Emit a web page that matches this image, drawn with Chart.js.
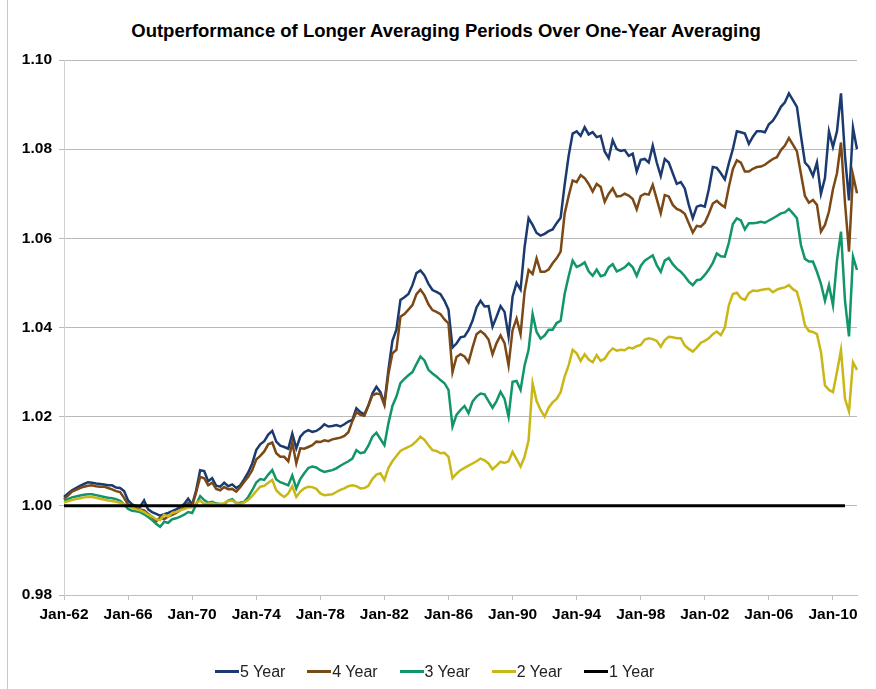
<!DOCTYPE html>
<html>
<head>
<meta charset="utf-8">
<title>Outperformance of Longer Averaging Periods</title>
<script src="https://cdn.jsdelivr.net/npm/chart.js@4/dist/chart.umd.min.js"></script>
<style>
  body { margin: 0; background: #fff; }
  #wrap { position: relative; width: 876px; height: 689px; overflow: hidden; font-family: "Liberation Sans", Arial, sans-serif; }
  #frame { position: absolute; left: 7px; top: 0; width: 0; height: 689px; border-left: 1px solid #c8c8c8; }
  #title { position: absolute; left: 446px; top: 20px; transform: translateX(-50%); white-space: nowrap;
           font-weight: bold; font-size: 18.5px; line-height: 22px; color: #000; }
  #chart { position: absolute; left: 0; top: 0; }
  .item { position: absolute; top: 662px; height: 20px; line-height: 20px; font-size: 16px; color: #222; white-space: nowrap; }
  .item span.line { display: inline-block; width: 24px; height: 3px; vertical-align: middle; margin-right: 1px; position: relative; top: -1px; }
</style>
</head>
<body>
<div id="wrap">
  <div id="frame"></div>
  <div id="title">Outperformance of Longer Averaging Periods Over One-Year Averaging</div>
  <canvas id="chart" width="876" height="689"></canvas>
  <div id="legend"></div>
</div>
<script>
// Quarterly categories, Jan-62 .. Jul-11
const quarterMonths = ['Jan', 'Apr', 'Jul', 'Oct'];
const firstYear = 1962, lastYear = 2011, lastQuarter = 2;
const categories = [];
for (let y = firstYear; y <= lastYear; y++) {
    for (let q = 0; q < 4; q++) {
        if (y === lastYear && q > lastQuarter) break;
        categories.push(quarterMonths[q] + '-' + String(y % 100).padStart(2, '0'));
    }
}

const tickLabels = ['Jan-62', 'Jan-66', 'Jan-70', 'Jan-74', 'Jan-78', 'Jan-82', 'Jan-86',
                    'Jan-90', 'Jan-94', 'Jan-98', 'Jan-02', 'Jan-06', 'Jan-10'];
const yTicks = [0.98, 1.00, 1.02, 1.04, 1.06, 1.08, 1.10];

const fiveYear = [
    1.0020,1.0028,1.0035,1.0040, 1.0045,1.0049,1.0053,1.0052, 1.0050,1.0049,1.0048,1.0046,
    1.0046,1.0041,1.0040,1.0033, 1.0012,1.0003,1.0000,0.9998, 1.0012,0.9992,0.9986,0.9982,
    0.9978,0.9981,0.9984,0.9988, 0.9992,0.9997,1.0004,1.0016, 1.0003,1.0035,1.0080,1.0078,
    1.0055,1.0062,1.0045,1.0043, 1.0052,1.0044,1.0048,1.0040, 1.0046,1.0060,1.0075,1.0095,
    1.0125,1.0138,1.0145,1.0160, 1.0168,1.0144,1.0135,1.0132, 1.0128,1.0162,1.0129,1.0155,
    1.0165,1.0170,1.0166,1.0168, 1.0174,1.0183,1.0178,1.0179, 1.0181,1.0178,1.0183,1.0189,
    1.0193,1.0219,1.0210,1.0205, 1.0225,1.0252,1.0267,1.0255, 1.0230,1.0305,1.0370,1.0395,
    1.0462,1.0468,1.0475,1.0495, 1.0522,1.0528,1.0517,1.0498, 1.0484,1.0480,1.0475,1.0460,
    1.0440,1.0355,1.0364,1.0378, 1.0380,1.0394,1.0415,1.0445, 1.0460,1.0447,1.0448,1.0402,
    1.0424,1.0448,1.0435,1.0380, 1.0469,1.0500,1.0485,1.0580, 1.0645,1.0630,1.0612,1.0606,
    1.0610,1.0616,1.0620,1.0634, 1.0646,1.0720,1.0785,1.0835, 1.0840,1.0830,1.0849,1.0833,
    1.0838,1.0827,1.0830,1.0795, 1.0780,1.0820,1.0800,1.0796, 1.0798,1.0785,1.0790,1.0750,
    1.0776,1.0778,1.0770,1.0808, 1.0770,1.0740,1.0778,1.0770, 1.0746,1.0722,1.0726,1.0712,
    1.0675,1.0645,1.0671,1.0674, 1.0671,1.0710,1.0760,1.0758, 1.0746,1.0732,1.0768,1.0800,
    1.0840,1.0838,1.0835,1.0812, 1.0828,1.0840,1.0840,1.0838, 1.0856,1.0864,1.0878,1.0895,
    1.0905,1.0925,1.0910,1.0895, 1.0830,1.0770,1.0760,1.0740, 1.0770,1.0700,1.0735,1.0840,
    1.0805,1.0840,1.0925,1.0785, 1.0685,1.0848,1.0800
];

const fourYear = [
    1.0015,1.0023,1.0032,1.0036, 1.0040,1.0043,1.0045,1.0046, 1.0044,1.0043,1.0043,1.0040,
    1.0037,1.0033,1.0031,1.0018, 1.0003,0.9998,0.9995,0.9992, 0.9990,0.9982,0.9975,0.9965,
    0.9974,0.9970,0.9976,0.9980, 0.9984,0.9990,0.9997,1.0006, 1.0000,1.0030,1.0065,1.0062,
    1.0046,1.0052,1.0038,1.0035, 1.0042,1.0037,1.0038,1.0032, 1.0042,1.0054,1.0065,1.0080,
    1.0104,1.0112,1.0122,1.0138, 1.0142,1.0118,1.0110,1.0110, 1.0100,1.0142,1.0095,1.0129,
    1.0128,1.0132,1.0136,1.0144, 1.0143,1.0147,1.0145,1.0149, 1.0151,1.0153,1.0157,1.0165,
    1.0190,1.0210,1.0204,1.0202, 1.0225,1.0248,1.0252,1.0250, 1.0226,1.0295,1.0342,1.0350,
    1.0424,1.0430,1.0440,1.0450, 1.0475,1.0485,1.0472,1.0452, 1.0439,1.0435,1.0430,1.0418,
    1.0409,1.0300,1.0334,1.0340, 1.0335,1.0322,1.0355,1.0385, 1.0392,1.0385,1.0373,1.0340,
    1.0365,1.0382,1.0365,1.0315, 1.0394,1.0420,1.0385,1.0480, 1.0529,1.0520,1.0555,1.0525,
    1.0525,1.0530,1.0544,1.0555, 1.0570,1.0655,1.0695,1.0730, 1.0726,1.0742,1.0735,1.0722,
    1.0705,1.0722,1.0715,1.0682, 1.0700,1.0712,1.0694,1.0695, 1.0700,1.0696,1.0688,1.0665,
    1.0695,1.0700,1.0698,1.0720, 1.0688,1.0656,1.0697,1.0694, 1.0675,1.0666,1.0662,1.0655,
    1.0634,1.0613,1.0628,1.0626, 1.0635,1.0655,1.0678,1.0684, 1.0676,1.0670,1.0715,1.0755,
    1.0775,1.0770,1.0750,1.0750, 1.0756,1.0760,1.0761,1.0765, 1.0772,1.0778,1.0782,1.0798,
    1.0808,1.0825,1.0810,1.0795, 1.0745,1.0695,1.0680,1.0686, 1.0675,1.0615,1.0630,1.0660,
    1.0710,1.0746,1.0815,1.0680, 1.0570,1.0742,1.0701
];

const threeYear = [
    1.0012,1.0015,1.0019,1.0021, 1.0023,1.0025,1.0026,1.0026, 1.0024,1.0022,1.0020,1.0018,
    1.0017,1.0015,1.0011,1.0003, 0.9993,0.9989,0.9988,0.9986, 0.9981,0.9975,0.9968,0.9960,
    0.9953,0.9964,0.9962,0.9970, 0.9972,0.9976,0.9980,0.9986, 0.9984,1.0003,1.0022,1.0013,
    1.0007,1.0009,1.0005,1.0004, 1.0003,1.0012,1.0015,1.0006, 1.0007,1.0009,1.0020,1.0035,
    1.0052,1.0060,1.0058,1.0070, 1.0080,1.0059,1.0053,1.0050, 1.0046,1.0068,1.0039,1.0060,
    1.0073,1.0085,1.0088,1.0086, 1.0080,1.0076,1.0078,1.0080, 1.0084,1.0090,1.0095,1.0100,
    1.0106,1.0125,1.0118,1.0120, 1.0135,1.0155,1.0164,1.0150, 1.0136,1.0185,1.0224,1.0245,
    1.0275,1.0285,1.0293,1.0300, 1.0318,1.0335,1.0326,1.0305, 1.0297,1.0290,1.0282,1.0275,
    1.0260,1.0178,1.0204,1.0215, 1.0224,1.0208,1.0234,1.0245, 1.0252,1.0250,1.0235,1.0220,
    1.0235,1.0256,1.0240,1.0200, 1.0278,1.0280,1.0260,1.0315, 1.0350,1.0430,1.0390,1.0375,
    1.0382,1.0395,1.0395,1.0410, 1.0415,1.0475,1.0515,1.0550, 1.0536,1.0540,1.0546,1.0526,
    1.0516,1.0530,1.0515,1.0518, 1.0535,1.0542,1.0526,1.0530, 1.0535,1.0544,1.0535,1.0516,
    1.0538,1.0550,1.0556,1.0562, 1.0540,1.0525,1.0550,1.0556, 1.0542,1.0532,1.0525,1.0515,
    1.0503,1.0495,1.0506,1.0508, 1.0518,1.0530,1.0545,1.0566, 1.0560,1.0559,1.0590,1.0632,
    1.0645,1.0640,1.0620,1.0634, 1.0634,1.0635,1.0637,1.0635, 1.0640,1.0645,1.0650,1.0656,
    1.0658,1.0666,1.0656,1.0645, 1.0585,1.0554,1.0548,1.0548, 1.0525,1.0498,1.0460,1.0495,
    1.0450,1.0550,1.0615,1.0460, 1.0380,1.0559,1.0529
];

const twoYear = [
    1.0008,1.0010,1.0013,1.0015, 1.0017,1.0019,1.0020,1.0020, 1.0018,1.0016,1.0014,1.0012,
    1.0011,1.0009,1.0007,1.0004, 1.0000,0.9996,0.9992,0.9990, 0.9986,0.9980,0.9976,0.9970,
    0.9968,0.9980,0.9976,0.9984, 0.9986,0.9990,0.9993,0.9996, 0.9997,1.0006,1.0012,1.0004,
    1.0005,1.0006,1.0003,1.0004, 1.0006,1.0011,1.0012,1.0006, 1.0004,1.0008,1.0013,1.0022,
    1.0033,1.0043,1.0045,1.0052, 1.0058,1.0035,1.0026,1.0020, 1.0028,1.0044,1.0020,1.0032,
    1.0039,1.0043,1.0042,1.0038, 1.0028,1.0024,1.0025,1.0026, 1.0031,1.0036,1.0039,1.0044,
    1.0046,1.0044,1.0039,1.0040, 1.0045,1.0060,1.0070,1.0073, 1.0058,1.0085,1.0100,1.0112,
    1.0123,1.0128,1.0132,1.0137, 1.0145,1.0155,1.0148,1.0136, 1.0125,1.0123,1.0118,1.0119,
    1.0110,1.0062,1.0072,1.0080, 1.0085,1.0090,1.0095,1.0100, 1.0106,1.0102,1.0095,1.0082,
    1.0090,1.0099,1.0096,1.0100, 1.0121,1.0105,1.0088,1.0110, 1.0147,1.0275,1.0235,1.0215,
    1.0200,1.0220,1.0232,1.0240, 1.0255,1.0290,1.0315,1.0350, 1.0342,1.0325,1.0340,1.0328,
    1.0322,1.0338,1.0325,1.0330, 1.0344,1.0353,1.0348,1.0350, 1.0349,1.0355,1.0353,1.0358,
    1.0361,1.0373,1.0376,1.0374, 1.0370,1.0357,1.0372,1.0379, 1.0378,1.0376,1.0376,1.0360,
    1.0352,1.0346,1.0355,1.0366, 1.0370,1.0376,1.0385,1.0391, 1.0383,1.0400,1.0450,1.0475,
    1.0478,1.0466,1.0462,1.0477, 1.0483,1.0482,1.0484,1.0486, 1.0487,1.0479,1.0485,1.0488,
    1.0490,1.0495,1.0486,1.0480, 1.0447,1.0405,1.0392,1.0390, 1.0385,1.0345,1.0270,1.0260,
    1.0255,1.0300,1.0350,1.0240, 1.0212,1.0322,1.0305
];

// 1 Year is the baseline: flat at 1.00 from Jan-62 to Oct-10
const oneYear = [{ x: 'Jan-62', y: 1.00 }, { x: 'Oct-10', y: 1.00 }];

const seriesNames = ['5 Year', '4 Year', '3 Year', '2 Year', '1 Year'];
const seriesColors = ['#1b3a70', '#7b4916', '#12956a', '#c9b717', '#000000'];
const seriesData = [fiveYear, fourYear, threeYear, twoYear, oneYear];

// later series sit on top in the original, so feed them to Chart.js in reverse
const datasets = [];
for (let i = seriesNames.length - 1; i >= 0; i--) {
    datasets.push({
        label: seriesNames[i],
        data: seriesData[i],
        borderColor: seriesColors[i],
        backgroundColor: seriesColors[i],
        borderWidth: i === 4 ? 3 : 2.5,
        pointRadius: 0,
        tension: 0,
        fill: false
    });
}

Chart.defaults.font.family = '"Liberation Sans", Arial, sans-serif';

new Chart(document.getElementById('chart'), {
    type: 'line',
    data: { labels: categories, datasets: datasets },
    options: {
        responsive: false,
        animation: false,
        events: [],
        devicePixelRatio: 1,
        layout: { padding: { left: 0, top: 60, right: 19, bottom: 64 } },
        plugins: { legend: { display: false }, title: { display: false }, tooltip: { enabled: false } },
        scales: {
            x: {
                type: 'category',
                offset: false,
                grid: { drawOnChartArea: false, drawTicks: true, tickLength: 5, color: '#bfbfbf' },
                border: { display: true, color: '#bfbfbf' },
                ticks: {
                    autoSkip: false,
                    maxRotation: 0,
                    minRotation: 0,
                    padding: 5,
                    color: '#000',
                    font: { size: 15.5, weight: 'bold' },
                    callback: function(value) {
                        const label = this.getLabelForValue(value);
                        return tickLabels.includes(label) ? label : null;
                    }
                },
                afterFit: function(scale) { scale.height = 30; }
            },
            y: {
                min: 0.98,
                max: 1.10,
                afterBuildTicks: function(scale) {
                    scale.ticks = yTicks.map(v => ({ value: v }));
                },
                grid: { color: '#bababa', tickLength: 5 },
                border: { display: true, color: '#d0d0d0' },
                ticks: {
                    padding: 7,
                    color: '#000',
                    font: { size: 15.5, weight: 'bold' },
                    callback: v => v.toFixed(2)
                },
                afterFit: function(scale) { scale.width = 64; }
            }
        }
    }
});

// Legend in the original order
const legend = document.getElementById('legend');
seriesNames.forEach(function(name, i) {
    const item = document.createElement('div');
    item.className = 'item';
    item.style.left = (215 + i * 92.25) + 'px';
    item.innerHTML = '<span class="line" style="background:' + seriesColors[i] + '"></span>' + name;
    legend.appendChild(item);
});
</script>
</body>
</html>
